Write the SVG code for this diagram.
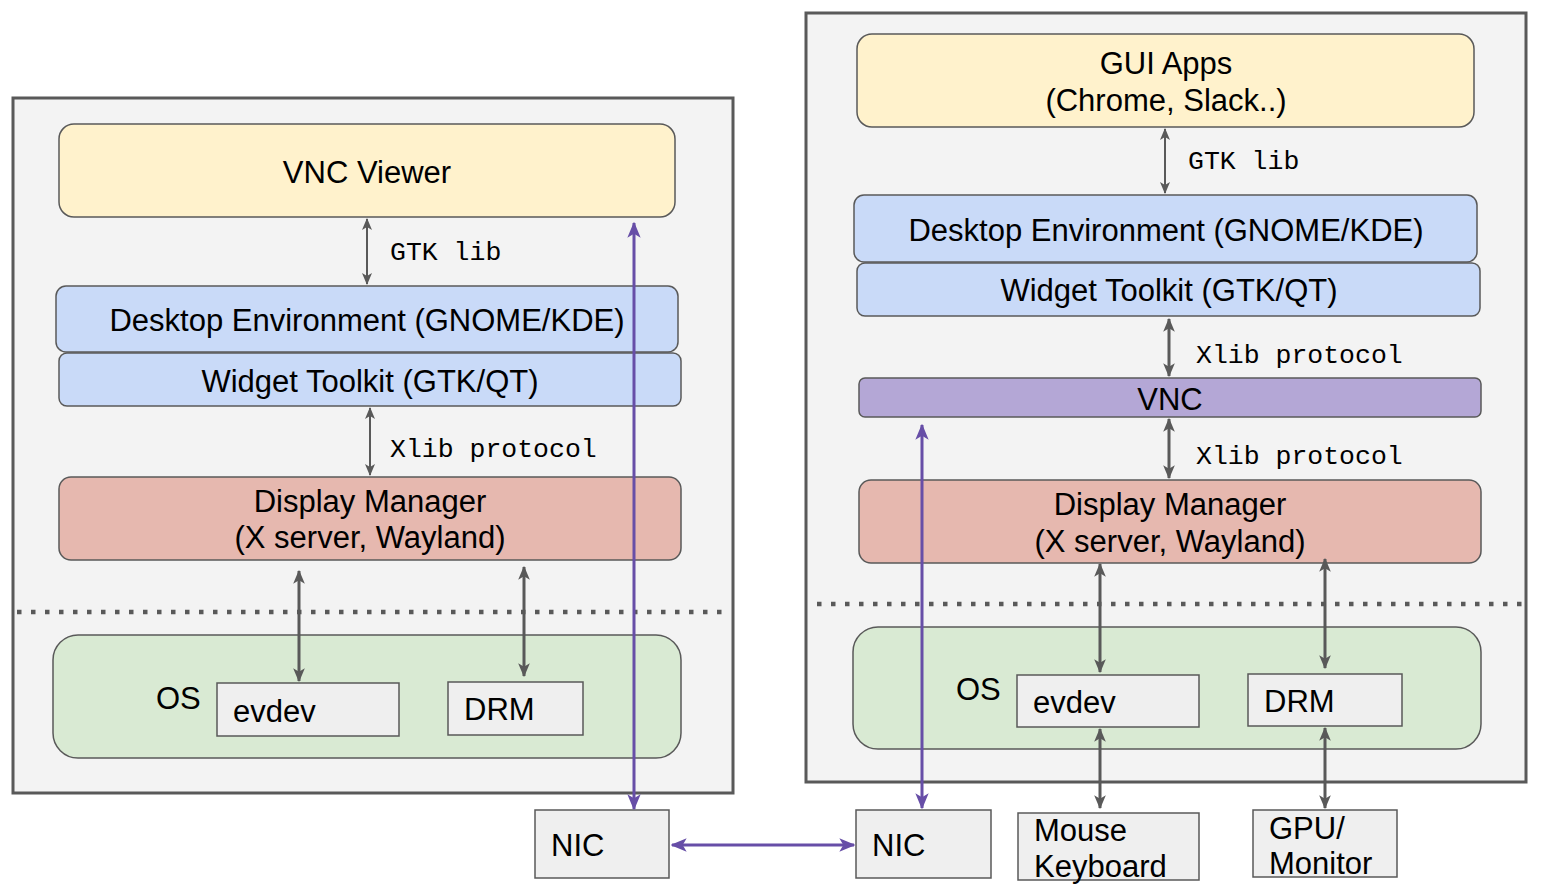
<svg xmlns="http://www.w3.org/2000/svg" width="1560" height="890" viewBox="0 0 1560 890">
<defs>
<marker id="ag" viewBox="0 0 12 12" refX="11" refY="6" markerWidth="12" markerHeight="12" markerUnits="userSpaceOnUse" orient="auto-start-reverse">
<path d="M0,1 L12,6 L0,11 L3,6 Z" fill="#595959"/>
</marker>
<marker id="agt" viewBox="0 0 12 12" refX="11" refY="6" markerWidth="14" markerHeight="14" markerUnits="userSpaceOnUse" orient="auto-start-reverse">
<path d="M0,1 L12,6 L0,11 L3,6 Z" fill="#595959"/>
</marker>
<marker id="ap" viewBox="0 0 12 12" refX="11" refY="6" markerWidth="16" markerHeight="16" markerUnits="userSpaceOnUse" orient="auto-start-reverse">
<path d="M0,1 L12,6 L0,11 L3,6 Z" fill="#674ea7"/>
</marker>
</defs>
<style>
.outer{fill:#f3f3f3;stroke:#595959;stroke-width:3}
.n{stroke:#595959;stroke-width:1.5}
.y{fill:#fff2cc}
.b{fill:#c9daf8}
.r{fill:#e6b8af}
.v{fill:#b4a7d6}
.g{fill:#d9ead3}
.s{fill:#efefef;stroke:#595959;stroke-width:1.5}
.t{font-family:"Liberation Sans",Arial,sans-serif;font-size:31px;fill:#000}
.c{text-anchor:middle}
.m{font-family:"Liberation Mono","Courier New",monospace;font-size:26.5px;fill:#000}
.dot{stroke:#595959;stroke-width:4.5;stroke-dasharray:4.5 9.5}
.ga{stroke:#595959;stroke-width:2;fill:none;marker-start:url(#ag);marker-end:url(#ag)}
.gt{stroke:#595959;stroke-width:3;fill:none;marker-start:url(#agt);marker-end:url(#agt)}
.pa{stroke:#674ea7;stroke-width:3;fill:none;marker-start:url(#ap);marker-end:url(#ap)}
</style>
<g id="left-host">
<rect class="outer" x="13" y="98" width="720" height="695"/>
<line class="dot" x1="17" y1="612" x2="730" y2="612"/>
</g>
<g id="right-host">
<rect class="outer" x="806" y="13" width="720" height="769"/>
<line class="dot" x1="817" y1="604" x2="1524" y2="604"/>
</g>
<g id="vnc-viewer"><rect class="n y" x="59" y="124" width="616" height="93" rx="15"/><text class="t c" x="367" y="183">VNC Viewer</text></g>
<g id="de-left"><rect class="n b" x="56" y="286" width="622" height="66" rx="10"/><text class="t c" x="367" y="331">Desktop Environment (GNOME/KDE)</text></g>
<g id="wt-left"><rect class="n b" x="59" y="353" width="622" height="53" rx="8"/><text class="t c" x="370" y="392">Widget Toolkit (GTK/QT)</text></g>
<g id="dm-left"><rect class="n r" x="59" y="477" width="622" height="83" rx="12"/><text class="t c" x="370" y="512">Display Manager</text><text class="t c" x="370" y="548">(X server, Wayland)</text></g>
<g id="os-left"><rect class="n g" x="53" y="635" width="628" height="123" rx="25"/><text class="t" x="156" y="709">OS</text></g>
<g id="evdev-left"><rect class="s" x="217" y="683" width="182" height="53"/><text class="t" x="233" y="722">evdev</text></g>
<g id="drm-left"><rect class="s" x="448" y="682" width="135" height="53"/><text class="t" x="464" y="720">DRM</text></g>
<g id="nic-left"><rect class="s" x="535" y="810" width="134" height="68"/><text class="t" x="551" y="856">NIC</text></g>
<g id="nic-right"><rect class="s" x="856" y="810" width="135" height="68"/><text class="t" x="872" y="856">NIC</text></g>
<g id="gui-apps"><rect class="n y" x="857" y="34" width="617" height="93" rx="15"/><text class="t c" x="1166" y="74">GUI Apps</text><text class="t c" x="1166" y="111">(Chrome, Slack..)</text></g>
<g id="de-right"><rect class="n b" x="854" y="195" width="623" height="67" rx="10"/><text class="t c" x="1166" y="241">Desktop Environment (GNOME/KDE)</text></g>
<g id="wt-right"><rect class="n b" x="857" y="263" width="623" height="53" rx="8"/><text class="t c" x="1169" y="301">Widget Toolkit (GTK/QT)</text></g>
<g id="vnc"><rect class="n v" x="859" y="378" width="622" height="39" rx="6"/><text class="t c" x="1170" y="410">VNC</text></g>
<g id="dm-right"><rect class="n r" x="859" y="480" width="622" height="83" rx="12"/><text class="t c" x="1170" y="515">Display Manager</text><text class="t c" x="1170" y="552">(X server, Wayland)</text></g>
<g id="os-right"><rect class="n g" x="853" y="627" width="628" height="122" rx="25"/><text class="t" x="956" y="700">OS</text></g>
<g id="evdev-right"><rect class="s" x="1017" y="675" width="182" height="52"/><text class="t" x="1033" y="713">evdev</text></g>
<g id="drm-right"><rect class="s" x="1248" y="674" width="154" height="52"/><text class="t" x="1264" y="712">DRM</text></g>
<g id="mouse-keyboard"><rect class="s" x="1018" y="813" width="181" height="67"/><text class="t" x="1034" y="841">Mouse</text><text class="t" x="1034" y="877">Keyboard</text></g>
<g id="gpu-monitor"><rect class="s" x="1253" y="810" width="144" height="67"/><text class="t" x="1269" y="839">GPU/</text><text class="t" x="1269" y="874">Monitor</text></g>
<g id="connectors">
<line class="ga" x1="367" y1="219" x2="367" y2="284"/>
<text class="m" x="390" y="260">GTK lib</text>
<line class="ga" x1="370" y1="408" x2="370" y2="475"/>
<text class="m" x="390" y="457">Xlib protocol</text>
<line class="gt" x1="299" y1="571" x2="299" y2="681"/>
<line class="gt" x1="524" y1="567" x2="524" y2="676"/>
<line class="pa" x1="634" y1="223" x2="634" y2="809"/>
<line class="pa" x1="672" y1="845" x2="854" y2="845"/>
<line class="ga" x1="1165" y1="129" x2="1165" y2="193"/>
<text class="m" x="1188" y="169">GTK lib</text>
<line class="gt" x1="1169" y1="319" x2="1169" y2="376"/>
<text class="m" x="1196" y="363">Xlib protocol</text>
<line class="gt" x1="1169" y1="419" x2="1169" y2="478"/>
<text class="m" x="1196" y="464">Xlib protocol</text>
<line class="gt" x1="1100" y1="564" x2="1100" y2="672"/>
<line class="gt" x1="1325" y1="559" x2="1325" y2="668"/>
<line class="gt" x1="1100" y1="729" x2="1100" y2="808"/>
<line class="gt" x1="1325" y1="728" x2="1325" y2="808"/>
<line class="pa" x1="922" y1="425" x2="922" y2="808"/>
</g>
</svg>
